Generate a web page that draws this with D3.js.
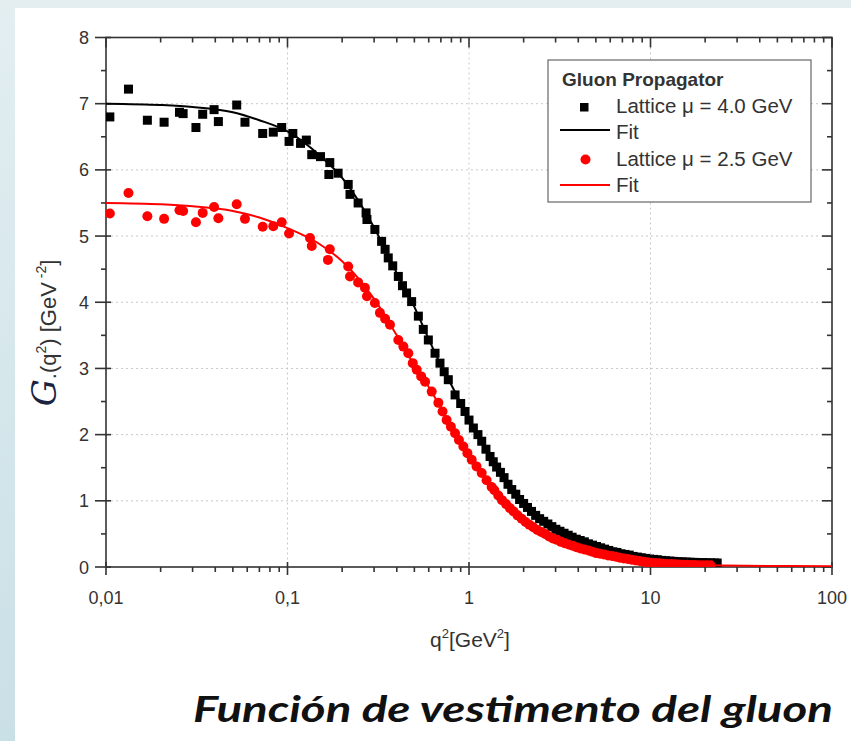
<!DOCTYPE html>
<html><head><meta charset="utf-8">
<script src="https://cdn.jsdelivr.net/npm/d3@7"></script>
<style>body{margin:0;background:#fff;}svg{display:block;}</style>
</head><body>
<svg id="c" width="851" height="741"></svg>
<script>
// ---- data (q^2 in GeV^2, G in GeV^-2) ----
const xTickValues = [0.01, 0.1, 1, 10, 100];
const xTickLabels = ["0,01", "0,1", "1", "10", "100"];
const yTickValues = [0, 1, 2, 3, 4, 5, 6, 7, 8];
const legendLabels = ["Gluon Propagator", "Lattice \u03bc = 4.0 GeV", "Fit", "Lattice \u03bc = 2.5 GeV", "Fit"];

const lattice40 = [[0.0105,6.80],[0.0133,7.22],[0.0169,6.75],[0.0209,6.72],[0.0254,6.87],[0.0266,6.85],[0.0313,6.64],[0.0341,6.84],[0.0394,6.91],[0.0416,6.73],[0.0525,6.98],[0.0583,6.72],[0.073,6.55],[0.0835,6.57],[0.0929,6.64],[0.102,6.43],[0.107,6.55],[0.118,6.40],[0.127,6.45],
[0.136,6.23],[0.152,6.20],[0.171,6.11],[0.169,5.93],[0.19,5.95],[0.216,5.78],[0.221,5.63],[0.245,5.50],[0.271,5.35],[0.274,5.25],[0.303,5.10],[0.33,4.92],[0.345,4.80],[0.359,4.67],[0.38,4.55],[0.408,4.39],[0.43,4.25],[0.453,4.14],[0.483,4.01],[0.526,3.79],[0.56,3.59],[0.597,3.43],[0.65,3.23],[0.692,3.08],[0.73,2.95],[0.769,2.83],[0.838,2.60],[0.9,2.47],[0.951,2.35],[1.0,2.22],[1.057,2.10],[1.12,2.00],[1.175,1.90],[1.24,1.78],[1.306,1.67],[1.36,1.59],
[1.42,1.51],[1.49,1.43],[1.56,1.35],[1.64,1.25],[1.72,1.17],[1.81,1.10],[1.90,1.02],[2.00,0.96],[2.10,0.90],[2.21,0.84],[2.33,0.78],[2.45,0.73],[2.58,0.69],[2.72,0.65],[2.86,0.61],[3.01,0.57],[3.17,0.54],[3.34,0.51],[3.52,0.48],[3.70,0.45],[3.90,0.42],[4.10,0.40],[4.32,0.38],[4.55,0.35],[4.79,0.33],[5.04,0.31],[5.31,0.29],[5.59,0.27],[5.89,0.25],[6.20,0.23],[6.53,0.22],[6.88,0.20],[7.24,0.19],[7.63,0.18],[8.03,0.16],[8.46,0.15],[8.90,0.14],[9.38,0.13],[9.87,0.12],[10.4,0.115],[10.9,0.11],[11.5,0.10],[12.1,0.095],[12.8,0.09],[13.4,0.085],[14.1,0.08],[14.9,0.078],[15.7,0.075],[16.5,0.072],[17.4,0.07],[18.3,0.068],[19.3,0.066],[20.3,0.064],[21.4,0.062],[22.5,0.06],[23.3,0.06]];

const fit40 = [[0.01,7.00],[0.02,6.98],[0.03,6.95],[0.05,6.87],[0.07,6.75],[0.1,6.58],[0.15,6.22],[0.2,5.88],[0.3,5.13],[0.4,4.44],[0.5,3.93],[0.6,3.44],[0.7,3.05],[0.8,2.75],[1.0,2.23],[1.3,1.68],[1.6,1.29],[2.0,0.96],[2.5,0.72],[3.0,0.56],[4.0,0.39],[5.0,0.29],[7.0,0.18],[10,0.12],[15,0.08],[23,0.065]];

const lattice25 = [[0.0105,5.34],[0.0133,5.65],[0.0169,5.30],[0.0209,5.26],[0.0254,5.39],[0.0266,5.38],[0.0313,5.21],[0.0341,5.35],[0.0394,5.44],[0.0416,5.27],[0.0525,5.48],[0.0583,5.26],[0.073,5.14],[0.0835,5.15],[0.0929,5.21],[0.102,5.04],[0.133,4.97],[0.136,4.85],[0.167,4.64],[0.171,4.80],[0.216,4.54],[0.221,4.39],[0.245,4.30],[0.267,4.22],[0.274,4.09],[0.303,3.99],[0.323,3.84],[0.345,3.75],[0.367,3.66],[0.408,3.43],[0.435,3.33],[0.463,3.23],[0.49,3.08],[0.515,2.98],[0.545,2.88],[0.573,2.80],[0.623,2.65],[0.678,2.48],[0.715,2.35],[0.753,2.22],[0.795,2.12],[0.838,2.02],[0.88,1.92],[0.931,1.82],[0.98,1.72],[1.035,1.62],[1.1,1.52],[1.175,1.42],[1.25,1.31],[1.333,1.21],
[1.38,1.16],[1.45,1.08],[1.52,1.01],[1.60,0.95],[1.68,0.89],[1.76,0.84],[1.85,0.78],[1.95,0.73],[2.05,0.68],[2.15,0.64],[2.26,0.60],[2.38,0.56],[2.50,0.53],[2.63,0.50],[2.76,0.46],[2.90,0.43],[3.05,0.41],[3.21,0.38],[3.37,0.36],[3.54,0.34],[3.72,0.32],[3.91,0.30],[4.11,0.28],[4.32,0.265],[4.55,0.25],[4.78,0.23],[5.02,0.21],[5.28,0.20],[5.55,0.19],[5.84,0.175],[6.14,0.165],[6.45,0.155],[6.78,0.14],[7.13,0.13],[7.50,0.12],[7.88,0.11],[8.29,0.10],[8.71,0.09],[9.16,0.08],[9.63,0.07],[10.1,0.065],[10.6,0.06],[11.2,0.055],[11.7,0.05],[12.3,0.047],[13.0,0.044],[13.6,0.04],[14.3,0.037],[15.1,0.035],[15.9,0.033],[16.7,0.031],[17.5,0.03],[18.4,0.028],[19.4,0.027],[20.4,0.026],[21.4,0.025]];

const fit25 = [[0.01,5.50],[0.02,5.48],[0.03,5.45],[0.05,5.38],[0.07,5.28],[0.1,5.12],[0.15,4.88],[0.2,4.62],[0.3,4.05],[0.4,3.50],[0.5,3.05],[0.6,2.72],[0.7,2.40],[0.8,2.10],[1.0,1.68],[1.3,1.24],[1.6,0.95],[2.0,0.71],[2.5,0.52],[3.0,0.41],[4.0,0.28],[5.0,0.21],[7.0,0.13],[10,0.07],[20,0.03],[50,0.015],[100,0.01]];

// ---- layout ----
const svg = d3.select("#c");
const L = 106, R = 832, T = 37.5, B = 567;
const x = d3.scaleLog().domain([0.01, 100]).range([L, R]);
const y = d3.scaleLinear().domain([0, 8]).range([B, T]);

// background
const defs = svg.append("defs");
const gr = defs.append("linearGradient").attr("id","side").attr("x1",0).attr("y1",0).attr("x2",0).attr("y2",1);
gr.append("stop").attr("offset","0%").attr("stop-color","#e3eef1");
gr.append("stop").attr("offset","100%").attr("stop-color","#c9e0e6");
svg.append("rect").attr("x",0).attr("y",0).attr("width",851).attr("height",741).attr("fill","url(#side)");
svg.append("rect").attr("x",0).attr("y",0).attr("width",851).attr("height",8).attr("fill","#e4eef1");
svg.append("rect").attr("x",15).attr("y",8).attr("width",836).attr("height",733).attr("fill","#ffffff");

// grid
const grid = svg.append("g").attr("stroke","#c8c8c8").attr("stroke-width",1).attr("stroke-dasharray","2,3");
grid.selectAll("line.h").data(yTickValues.filter(v=>v>0&&v<8)).enter().append("line")
  .attr("x1",L).attr("x2",R).attr("y1",d=>y(d)).attr("y2",d=>y(d));
grid.selectAll("line.v").data(xTickValues.filter(v=>v>0.01&&v<100)).enter().append("line")
  .attr("y1",T).attr("y2",B).attr("x1",d=>x(d)).attr("x2",d=>x(d));

// minor tick values
const minorX = [];
[0.01,0.1,1,10].forEach(d=>{for(let k=2;k<=9;k++) minorX.push(d*k);});
const minorY = d3.range(0.5, 8, 1);

const axCol = "#333";
const gA = svg.append("g").attr("stroke",axCol).attr("stroke-width",1.6);
gA.append("rect").attr("x",L).attr("y",T).attr("width",R-L).attr("height",B-T).attr("fill","none");
gA.selectAll(null).data(xTickValues).enter().append("line").attr("x1",d=>x(d)).attr("x2",d=>x(d)).attr("y1",B-5).attr("y2",B+8);
gA.selectAll(null).data(minorX).enter().append("line").attr("x1",d=>x(d)).attr("x2",d=>x(d)).attr("y1",B).attr("y2",B+5);
gA.selectAll(null).data(xTickValues).enter().append("line").attr("x1",d=>x(d)).attr("x2",d=>x(d)).attr("y1",T).attr("y2",T+10);
gA.selectAll(null).data(minorX).enter().append("line").attr("x1",d=>x(d)).attr("x2",d=>x(d)).attr("y1",T).attr("y2",T+5);
gA.selectAll(null).data(yTickValues).enter().append("line").attr("y1",d=>y(d)).attr("y2",d=>y(d)).attr("x1",L-11).attr("x2",L+5);
gA.selectAll(null).data(minorY).enter().append("line").attr("y1",d=>y(d)).attr("y2",d=>y(d)).attr("x1",L-5).attr("x2",L);
gA.selectAll(null).data(yTickValues).enter().append("line").attr("y1",d=>y(d)).attr("y2",d=>y(d)).attr("x1",R-10).attr("x2",R);
gA.selectAll(null).data(minorY).enter().append("line").attr("y1",d=>y(d)).attr("y2",d=>y(d)).attr("x1",R-5).attr("x2",R);

// tick labels
const font = "'Liberation Sans', Arial, sans-serif";
svg.append("g").selectAll("text").data(yTickValues).enter().append("text")
  .attr("x",L-17).attr("y",d=>y(d)+6.5).attr("text-anchor","end")
  .attr("font-family",font).attr("font-size",18).attr("fill","#333").text(d=>d);
svg.append("g").selectAll("text").data(xTickValues).enter().append("text")
  .attr("x",d=>x(d)).attr("y",B+37).attr("text-anchor","middle")
  .attr("font-family",font).attr("font-size",18).attr("fill","#333").text((d,i)=>xTickLabels[i]);

// axis titles
const xt = svg.append("text").attr("x",470).attr("y",647).attr("text-anchor","middle")
  .attr("font-family",font).attr("font-size",21).attr("fill","#333");
xt.append("tspan").text("q");
xt.append("tspan").attr("font-size",13).attr("dy",-9).text("2");
xt.append("tspan").attr("dy",9).text("[GeV");
xt.append("tspan").attr("font-size",13).attr("dy",-9).text("2");
xt.append("tspan").attr("dy",9).text("]");

const yt = svg.append("text").attr("transform","translate(56,333) rotate(-90)").attr("text-anchor","middle")
  .attr("font-family",font).attr("font-size",22).attr("fill","#333");
yt.append("tspan").attr("font-family","'DejaVu Serif', serif").attr("font-style","italic").attr("font-size",34).attr("fill","#1a2340").text("G");
yt.append("tspan").text(".(q");
yt.append("tspan").attr("font-size",14).attr("dy",-10).text("2");
yt.append("tspan").attr("dy",10).text(") [GeV");
yt.append("tspan").attr("font-size",14).attr("dy",-10).text(" -2");
yt.append("tspan").attr("dy",10).text("]");

// plot data
const clip = defs.append("clipPath").attr("id","pc");
clip.append("rect").attr("x",L).attr("y",T).attr("width",R-L).attr("height",B-T);
const plot = svg.append("g").attr("clip-path","url(#pc)");

const line = d3.line().x(d=>x(d[0])).y(d=>y(d[1])).curve(d3.curveMonotoneX);

const s = 9;
plot.selectAll("rect.b").data(lattice40).enter().append("rect")
  .attr("x",d=>x(d[0])-s/2).attr("y",d=>y(d[1])-s/2).attr("width",s).attr("height",s).attr("fill","#000");
plot.append("path").datum(fit40).attr("d",line).attr("fill","none").attr("stroke","#000").attr("stroke-width",2);

plot.selectAll("circle.r").data(lattice25).enter().append("circle")
  .attr("cx",d=>x(d[0])).attr("cy",d=>y(d[1])).attr("r",5).attr("fill","#ff0000");
plot.append("path").datum(fit25).attr("d",line).attr("fill","none").attr("stroke","#ff0000").attr("stroke-width",2);

// legend
const lg = svg.append("g");
lg.append("rect").attr("x",548).attr("y",60).attr("width",263).attr("height",142).attr("fill","#fff").attr("stroke","#666").attr("stroke-width",1.2);
lg.append("text").attr("x",562).attr("y",86).attr("font-family",font).attr("font-weight","bold").attr("font-size",19).attr("fill","#333").text(legendLabels[0]);
const rows = [{y:113,type:"sq"},{y:139,type:"lineK"},{y:166,type:"dot"},{y:192,type:"lineR"}];
rows.forEach((r,i)=>{
  if(r.type==="sq") lg.append("rect").attr("x",580).attr("y",r.y-10).attr("width",8.5).attr("height",8.5).attr("fill","#000");
  if(r.type==="dot") lg.append("circle").attr("cx",585.5).attr("cy",r.y-6.5).attr("r",5).attr("fill","#ff0000");
  if(r.type==="lineK") lg.append("line").attr("x1",560).attr("x2",610).attr("y1",r.y-9).attr("y2",r.y-9).attr("stroke","#000").attr("stroke-width",2);
  if(r.type==="lineR") lg.append("line").attr("x1",560).attr("x2",610).attr("y1",r.y-7).attr("y2",r.y-7).attr("stroke","#ff0000").attr("stroke-width",2);
  lg.append("text").attr("x",616).attr("y",r.y).attr("font-family",font).attr("font-size",20.5).attr("fill","#333").text(legendLabels[i+1]);
});

// caption
svg.append("text").attr("x",193).attr("y",722).attr("font-family","'Lato', 'Open Sans', sans-serif")
  .attr("font-style","italic").attr("font-weight","bold").attr("font-size",36).attr("fill","#111")
  .attr("textLength",640).attr("lengthAdjust","spacingAndGlyphs")
  .text("Función de vestimento del gluon");
</script>
</body></html>
